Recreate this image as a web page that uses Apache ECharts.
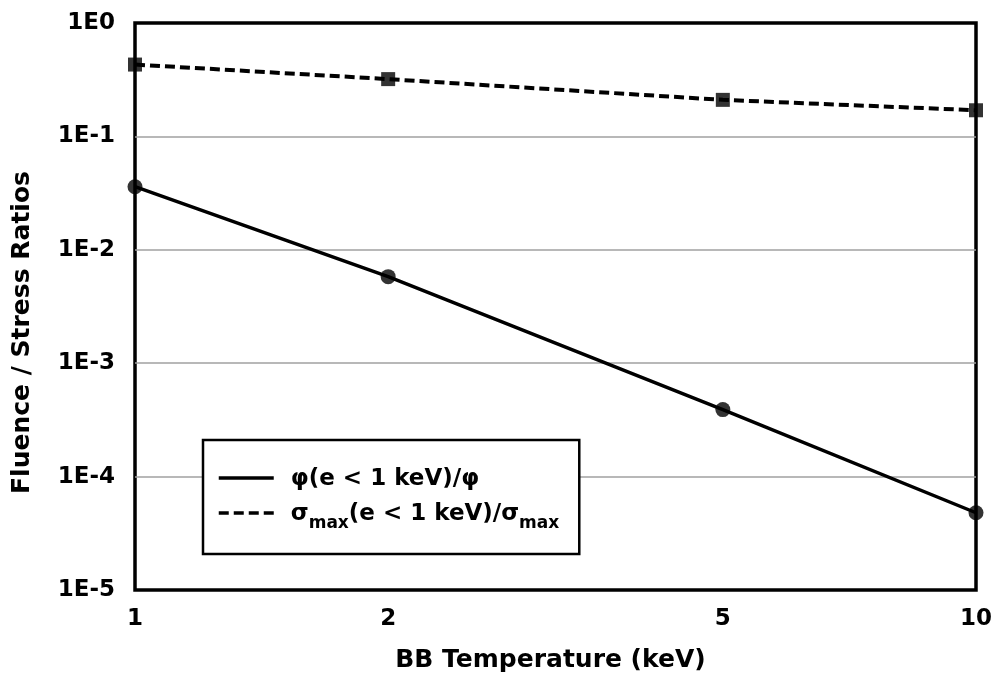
<!DOCTYPE html>
<html><head><meta charset="utf-8">
<script src="https://cdn.jsdelivr.net/npm/echarts@6/dist/echarts.min.js"></script>
<style>html,body{margin:0;padding:0;background:#fff}#c{width:1001px;height:680px}</style>
</head><body><div id="c"></div>
<script>
const temps = [1, 2, 5, 10];
const phiRatio = [0.036, 0.0058, 0.00039, 0.000048];
const sigmaRatio = [0.43, 0.32, 0.21, 0.17];
const xTickValues = [1, 2, 5, 10];
const seriesNames = ['phi', 'sigma'];
const xTitle = 'BB Temperature (keV)';
const yTitle = 'Fluence / Stress Ratios';

const FONT = 'DejaVu Sans';
const chart = echarts.init(document.getElementById('c'), null, {renderer: 'canvas'});
const pairs = a => temps.map((t, i) => [t, a[i]]);

chart.setOption({
  animation: false,
  backgroundColor: '#fff',
  grid: {left: 135, right: 25, top: 23, bottom: 90, show: true, borderColor: '#000', borderWidth: 3.5, backgroundColor: 'transparent'},
  xAxis: {
    type: 'log', logBase: 10, min: 1, max: 10,
    name: xTitle, nameLocation: 'middle', nameGap: 58,
    nameTextStyle: {fontFamily: FONT, fontWeight: 'bold', fontSize: 25, color: '#000', padding: [0, 10, 0, 0]},
    axisLine: {show: false}, axisTick: {show: false},
    splitLine: {show: false},
    axisLabel: {customValues: xTickValues, fontFamily: FONT, fontWeight: 'bold', fontSize: 23, color: '#000', margin: 18,
      formatter: v => String(Math.round(v))}
  },
  yAxis: {
    type: 'log', logBase: 10, min: 1e-5, max: 1,
    name: yTitle, nameLocation: 'middle', nameGap: 100, nameRotate: 90,
    nameTextStyle: {fontFamily: FONT, fontWeight: 'bold', fontSize: 25, color: '#000', padding: [0, 52, 0, 0]},
    axisLine: {show: false}, axisTick: {show: false},
    splitLine: {show: true, showMinLine: false, showMaxLine: false, lineStyle: {color: '#a0a0a0', width: 1.5}},
    axisLabel: {fontFamily: FONT, fontWeight: 'bold', fontSize: 23, color: '#000', margin: 20,
      formatter: v => '1E' + Math.round(Math.log10(v))}
  },
  legend: {
    data: seriesNames,
    left: 203, top: 440, orient: 'vertical',
    backgroundColor: '#fff', borderColor: '#000', borderWidth: 2.5,
    padding: [28, 20, 22, 14], itemGap: 12, itemWidth: 55, itemHeight: 16,
    selectedMode: false,
    itemStyle: {opacity: 0},
    lineStyle: {width: 3.5},
    formatter: n => n === 'phi' ? '{t|φ(e < 1 keV)/φ}' : '{t|σ}{s|max}{t|(e < 1 keV)/σ}{s|max}',
    textStyle: {
      fontFamily: FONT, fontWeight: 'bold', color: '#000', padding: [0, 0, 0, 12],
      rich: {
        t: {fontFamily: FONT, fontWeight: 'bold', fontSize: 23, color: '#000', lineHeight: 26, verticalAlign: 'bottom'},
        s: {fontFamily: FONT, fontWeight: 'bold', fontSize: 17, color: '#000', lineHeight: 17, verticalAlign: 'bottom', padding: [0, 0, -6, 0]}
      }
    }
  },
  series: [
    {name: 'phi', type: 'line', data: pairs(phiRatio), symbol: 'none', color: '#000',
     lineStyle: {color: '#000', width: 3.5, type: 'solid'}},
    {name: 'sigma', type: 'line', data: pairs(sigmaRatio), symbol: 'none', color: '#000',
     lineStyle: {color: '#000', width: 4, type: [10, 5]}},
    {name: 'phiPts', type: 'scatter', data: pairs(phiRatio), symbol: 'circle', symbolSize: 15,
     itemStyle: {color: '#000'}, z: 5},
    {name: 'sigmaPts', type: 'scatter', data: pairs(sigmaRatio), symbol: 'rect', symbolSize: 14,
     itemStyle: {color: '#000'}, z: 5}
  ]
});
</script></body></html>
